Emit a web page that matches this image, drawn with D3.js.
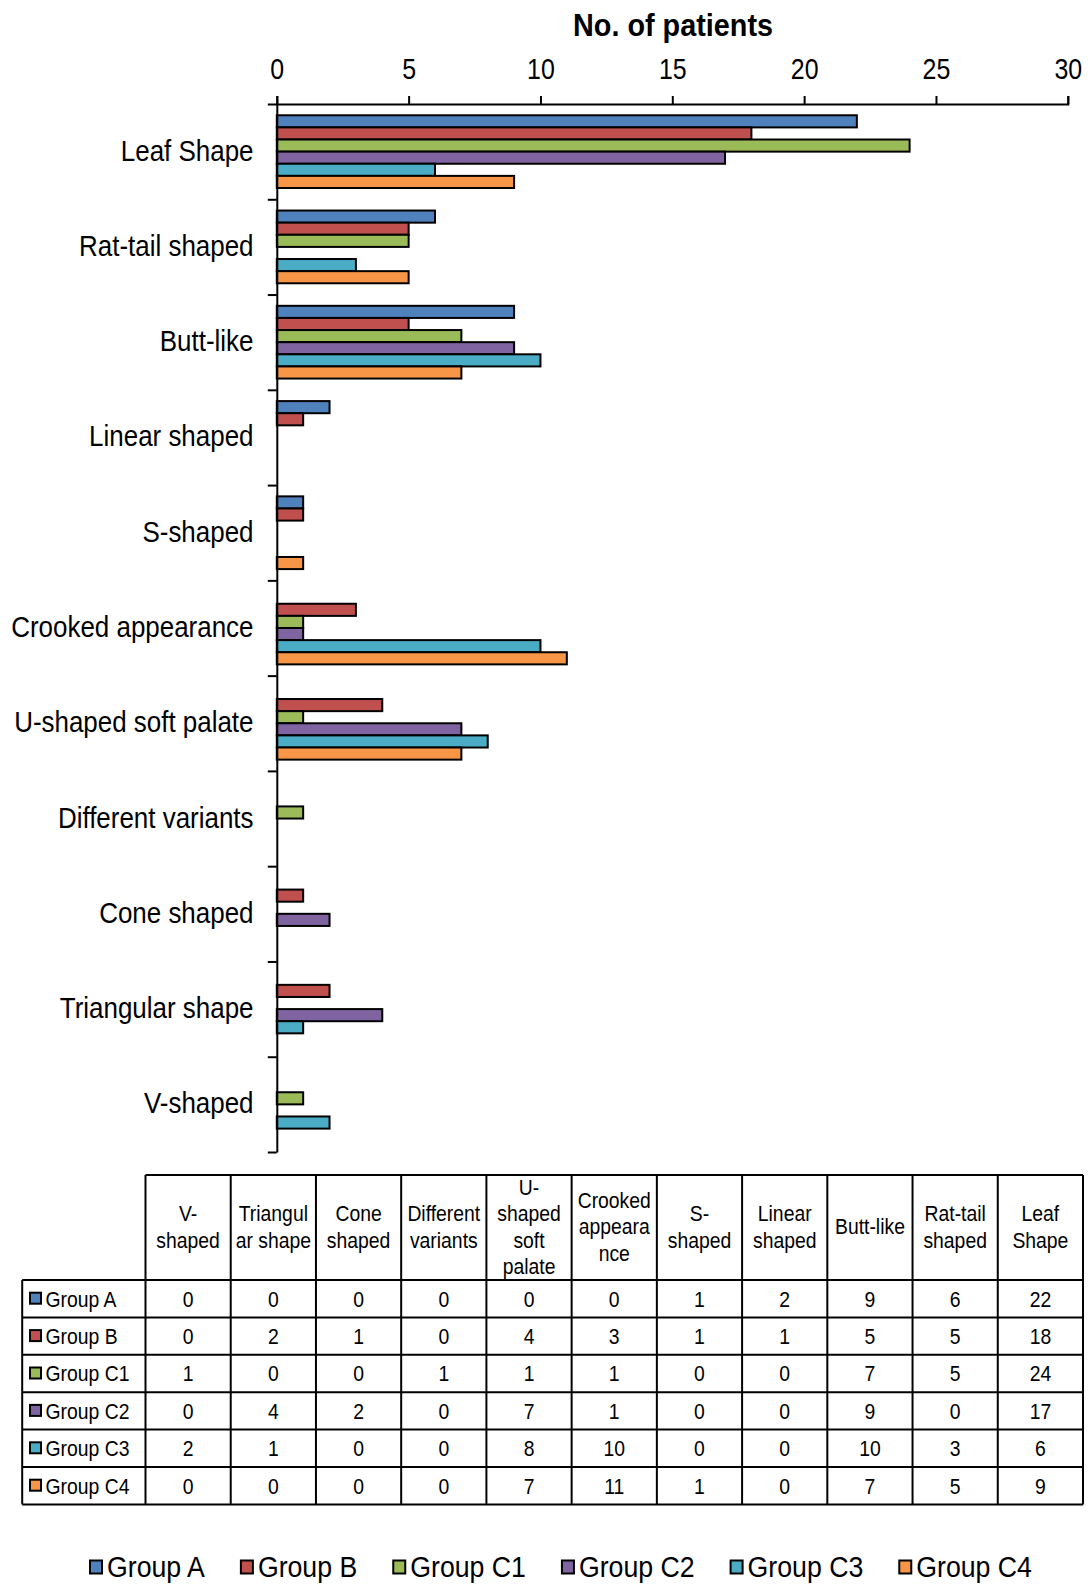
<!DOCTYPE html>
<html>
<head>
<meta charset="utf-8">
<script src="https://cdn.jsdelivr.net/npm/d3@7"></script>
<style>
  body { margin: 0; background: #fff; }
  text { font-family: "Liberation Sans", Arial, sans-serif; fill: #000; }
</style>
</head>
<body>
<svg id="chart" width="1091" height="1584"></svg>
<script>
'use strict';

// categories in table order (chart draws them bottom to top)
const categories = ['V-shaped', 'Triangular shape', 'Cone shaped', 'Different variants', 'U-shaped soft palate',
  'Crooked appearance', 'S-shaped', 'Linear shaped', 'Butt-like', 'Rat-tail shaped', 'Leaf Shape'];
const headerLines = [['V-', 'shaped'], ['Triangul', 'ar shape'], ['Cone', 'shaped'], ['Different', 'variants'],
  ['U-', 'shaped', 'soft', 'palate'], ['Crooked', 'appeara', 'nce'], ['S-', 'shaped'], ['Linear', 'shaped'],
  ['Butt-like'], ['Rat-tail', 'shaped'], ['Leaf', 'Shape']];

const groups = ['Group A', 'Group B', 'Group C1', 'Group C2', 'Group C3', 'Group C4'];
const groupA  = [0, 0, 0, 0, 0, 0, 1, 2, 9, 6, 22];
const groupB  = [0, 2, 1, 0, 4, 3, 1, 1, 5, 5, 18];
const groupC1 = [1, 0, 0, 1, 1, 1, 0, 0, 7, 5, 24];
const groupC2 = [0, 4, 2, 0, 7, 1, 0, 0, 9, 0, 17];
const groupC3 = [2, 1, 0, 0, 8, 10, 0, 0, 10, 3, 6];
const groupC4 = [0, 0, 0, 0, 7, 11, 1, 0, 7, 5, 9];
const seriesValues = [groupA, groupB, groupC1, groupC2, groupC3, groupC4];
const colors = ['#4F81BD', '#C0504D', '#9BBB59', '#8064A2', '#4BACC6', '#F79646'];
const xTicks = [0, 5, 10, 15, 20, 25, 30];
const xTitle = 'No. of patients';

const svg = d3.select('#chart');
const plot = { left: 276.8, right: 1067.8, top: 104, bottom: 1152 };

// text in the reference is a bit narrow, squeeze it horizontally
function place(sel, x, y, sx) {
  sel.attr('transform', `translate(${x},${y}) scale(${sx},1)`);
}

const xScale = d3.scaleLinear()
  .domain([0, 30])
  .range([plot.left, plot.right]);

const chartOrder = categories.slice().reverse();
const yBand = d3.scaleBand()
  .domain(chartOrder)
  .range([plot.top, plot.bottom]);

const inner = d3.scaleBand()
  .domain(groups)
  .range([0, yBand.bandwidth()])
  .paddingOuter(0.93);

// bars
const barData = [];
categories.forEach(function (c, ci) {
  groups.forEach(function (g, gi) {
    const v = seriesValues[gi][ci];
    if (v > 0) {
      barData.push({ cat: c, group: g, value: v, color: colors[gi] });
    }
  });
});

svg.append('g')
  .selectAll('rect')
  .data(barData)
  .enter()
  .append('rect')
  .attr('x', xScale(0))
  .attr('y', d => yBand(d.cat) + inner(d.group))
  .attr('width', d => xScale(d.value) - xScale(0))
  .attr('height', inner.bandwidth())
  .attr('fill', d => d.color)
  .attr('stroke', '#000')
  .attr('stroke-width', 2);

// x axis on top
const xAxis = d3.axisTop(xScale)
  .tickValues(xTicks)
  .tickSize(8)
  .tickPadding(17);

const xg = svg.append('g')
  .attr('transform', `translate(0, ${plot.top})`)
  .call(xAxis);
xg.selectAll('path, line').attr('stroke', '#000').attr('stroke-width', 2);
xg.selectAll('text')
  .attr('font-size', 29)
  .attr('font-family', '"Liberation Sans", Arial, sans-serif')
  .attr('transform', 'scale(0.86,1)');

svg.append('text')
  .text(xTitle)
  .attr('font-size', 32)
  .attr('font-weight', 'bold')
  .attr('text-anchor', 'middle')
  .call(place, 673, 36, 0.9);

// y axis with ticks at band boundaries
const yEdges = d3.scaleLinear()
  .domain([0, chartOrder.length])
  .range([plot.top, plot.bottom]);
const yg = svg.append('g')
  .attr('transform', `translate(${plot.left}, 0)`)
  .call(d3.axisLeft(yEdges).tickValues(d3.range(chartOrder.length + 1)).tickFormat('').tickSize(9).tickSizeOuter(0));
yg.selectAll('path, line').attr('stroke', '#000').attr('stroke-width', 2);

svg.append('g')
  .selectAll('text')
  .data(chartOrder)
  .enter()
  .append('text')
  .text(d => d)
  .attr('font-size', 29)
  .attr('text-anchor', 'end')
  .each(function (d) {
    d3.select(this).call(place, 253.5, yBand(d) + yBand.bandwidth() / 2 + 9, 0.895);
  });

// data table
const table = { left: 22.2, colStart: 145.5, right: 1083, top: 1175, headBottom: 1280, rowH: 37.4 };
const tableBottom = table.headBottom + groups.length * table.rowH;
const colScale = d3.scaleBand().domain(categories).range([table.colStart, table.right]);
const rowScale = d3.scaleBand().domain(groups).range([table.headBottom, tableBottom]);

const tg = svg.append('g');
const hLines = [{ y: table.top, x0: table.colStart }].concat(
  d3.range(groups.length + 1).map(i => ({ y: table.headBottom + i * table.rowH, x0: table.left })));
tg.selectAll('line.h')
  .data(hLines)
  .enter()
  .append('line')
  .attr('x1', d => d.x0)
  .attr('x2', table.right)
  .attr('y1', d => d.y)
  .attr('y2', d => d.y)
  .attr('stroke', '#000')
  .attr('stroke-width', 2);

const vLines = [{ x: table.left, y0: table.headBottom }].concat(
  categories.map(c => ({ x: colScale(c), y0: table.top })),
  [{ x: table.right, y0: table.top }]);
tg.selectAll('line.v')
  .data(vLines)
  .enter()
  .append('line')
  .attr('x1', d => d.x)
  .attr('x2', d => d.x)
  .attr('y1', d => d.y0)
  .attr('y2', tableBottom)
  .attr('stroke', '#000')
  .attr('stroke-width', 2);

svg.append('clipPath')
  .attr('id', 'headclip')
  .append('rect')
  .attr('x', table.colStart)
  .attr('y', table.top + 1)
  .attr('width', table.right - table.colStart)
  .attr('height', table.headBottom - table.top - 1);

const headMid = (table.top + table.headBottom) / 2 - 1;
const lineH = 26.4;
const head = tg.append('g').attr('clip-path', 'url(#headclip)');
categories.forEach(function (c, ci) {
  const lines = headerLines[ci];
  const cx = colScale(c) + colScale.bandwidth() / 2;
  lines.forEach(function (ln, li) {
    const cy = headMid + (li - (lines.length - 1) / 2) * lineH;
    head.append('text')
      .text(ln)
      .attr('font-size', 22)
      .attr('text-anchor', 'middle')
      .call(place, cx, cy + 7.8, 0.88);
  });
});

groups.forEach(function (g, gi) {
  const ry = rowScale(g);
  const cyRow = ry + rowScale.bandwidth() / 2;
  tg.append('rect')
    .attr('x', 30)
    .attr('y', cyRow - 6)
    .attr('width', 11)
    .attr('height', 11)
    .attr('fill', colors[gi])
    .attr('stroke', '#000')
    .attr('stroke-width', 2);
  tg.append('text')
    .text(g)
    .attr('font-size', 22)
    .call(place, 45.5, cyRow + 7.8, 0.88);
  categories.forEach(function (c, ci) {
    tg.append('text')
      .text(seriesValues[gi][ci])
      .attr('font-size', 22)
      .attr('text-anchor', 'middle')
      .call(place, colScale(c) + colScale.bandwidth() / 2, cyRow + 7.8, 0.88);
  });
});

// legend
const legendY = 1567;
const legendSx = 0.89;
const lg = svg.append('g');
let lx = 90;
groups.forEach(function (g, gi) {
  lg.append('rect')
    .attr('x', lx)
    .attr('y', legendY - 6.5)
    .attr('width', 12)
    .attr('height', 13)
    .attr('fill', colors[gi])
    .attr('stroke', '#000')
    .attr('stroke-width', 2);
  const t = lg.append('text')
    .text(g)
    .attr('font-size', 30)
    .call(place, lx + 17, legendY + 10, legendSx);
  const w = t.node().getComputedTextLength() * legendSx;
  lx += 17 + w + 36;
});
</script>
</body>
</html>
